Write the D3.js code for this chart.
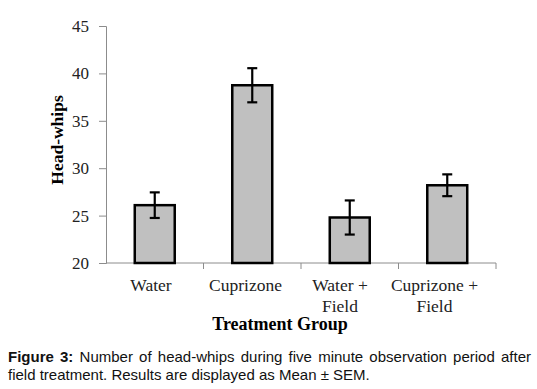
<!DOCTYPE html>
<html>
<head>
<meta charset="utf-8">
<script src="https://cdn.jsdelivr.net/npm/d3@7"></script>
<style>
  body { margin: 0; background: #fff; }
</style>
</head>
<body>
<div id="chart"></div>
<script>
// data
const groups = ["Water", "Cuprizone", "Water + Field", "Cuprizone + Field"]
const groupLines = [["Water"], ["Cuprizone"], ["Water +", "Field"], ["Cuprizone +", "Field"]]
const means = [26.1, 38.75, 24.8, 28.2]
const sems = [1.35, 1.8, 1.8, 1.15]
const yTicks = [20, 25, 30, 35, 40, 45]

const W = 537, H = 389
const margin = {top: 26, right: 41, bottom: 126, left: 106}
const width = W - margin.left - margin.right
const height = H - margin.top - margin.bottom

const svg = d3.select("#chart")
    .append("svg")
        .attr("width", W)
        .attr("height", H)

const bounds = svg.append("g")
    .attr("transform", `translate(${margin.left},${margin.top})`)

const x = d3.scaleBand()
    .domain(groups)
    .range([0, width])
    .paddingInner(0.59)
    .paddingOuter(0.295)

const xOuter = d3.scaleBand()
    .domain(groups)
    .range([0, width])

// labels in the original sit a little left of the band centres
const xLabel = d3.scaleBand()
    .domain(groups)
    .range([-2.25, 375.75])

const y = d3.scaleLinear()
    .domain([20, 45])
    .range([height, 0])

// y axis
const yAxis = bounds.append("g")
    .call(d3.axisLeft(y).tickValues(yTicks).tickSize(7).tickPadding(10))
    .attr("font-family", "Liberation Serif")
    .attr("font-size", 17)
yAxis.selectAll("path, line").attr("stroke", "#8c8c8c")
yAxis.selectAll("text")
    .attr("fill", "#222")
    .style("font-family", "'Liberation Serif', serif")
    .style("font-size", "17px")

// x axis line + ticks at category boundaries
const xAxis = bounds.append("g")
    .attr("transform", `translate(0,${height})`)
xAxis.append("line")
    .attr("x1", 0).attr("x2", width)
    .attr("stroke", "#8c8c8c")
xAxis.selectAll(".tk")
    .data(groups)
    .join("line")
        .attr("x1", d => xOuter(d) + xOuter.bandwidth())
        .attr("x2", d => xOuter(d) + xOuter.bandwidth())
        .attr("y1", 0).attr("y2", 6)
        .attr("stroke", "#8c8c8c")

// bars
bounds.selectAll(".bar")
    .data(groups)
    .join("rect")
        .attr("x", d => x(d))
        .attr("y", (d, i) => y(means[i]))
        .attr("width", x.bandwidth())
        .attr("height", (d, i) => height - y(means[i]))
        .attr("fill", "#c0c0c0")
        .attr("stroke", "#000")
        .attr("stroke-width", 2.5)

// error bars
const err = bounds.selectAll(".err")
    .data(groups)
    .join("g")
        .attr("transform", d => `translate(${x(d) + x.bandwidth() / 2},0)`)
err.append("line")
    .attr("y1", (d, i) => y(means[i] + sems[i]))
    .attr("y2", (d, i) => y(means[i] - sems[i]))
    .attr("stroke", "#000").attr("stroke-width", 2.2)
err.append("line")
    .attr("x1", -5).attr("x2", 5)
    .attr("y1", (d, i) => y(means[i] + sems[i]))
    .attr("y2", (d, i) => y(means[i] + sems[i]))
    .attr("stroke", "#000").attr("stroke-width", 2.2)
err.append("line")
    .attr("x1", -5).attr("x2", 5)
    .attr("y1", (d, i) => y(means[i] - sems[i]))
    .attr("y2", (d, i) => y(means[i] - sems[i]))
    .attr("stroke", "#000").attr("stroke-width", 2.2)

// category labels
bounds.selectAll(".xl")
    .data(groups)
    .join("text")
        .attr("x", d => xLabel(d) + xLabel.bandwidth() / 2)
        .attr("y", height + 28)
        .attr("text-anchor", "middle")
        .attr("fill", "#222")
        .style("font-family", "'Liberation Serif', serif")
        .style("font-size", "17.5px")
        .selectAll("tspan")
        .data((d, i) => groupLines[i])
        .join("tspan")
            .attr("x", function() { return this.parentNode.getAttribute("x") })
            .attr("dy", (d, i) => i ? 21 : 0)
            .text(d => d)

// axis titles
svg.append("text")
    .attr("x", 280)
    .attr("y", 330)
    .attr("text-anchor", "middle")
    .style("font-family", "'Liberation Serif', serif")
    .style("font-size", "18px")
    .style("font-weight", "bold")
    .text("Treatment Group")

svg.append("text")
    .attr("transform", "translate(63,140) rotate(-90)")
    .attr("text-anchor", "middle")
    .style("font-family", "'Liberation Serif', serif")
    .style("font-size", "17.5px")
    .style("font-weight", "bold")
    .text("Head-whips")

// caption
const cap1 = svg.append("text")
    .attr("x", 8)
    .attr("y", 362)
    .style("font-family", "'Liberation Sans', Arial, sans-serif")
    .style("font-size", "15px")
    .attr("fill", "#111")
cap1.append("tspan").style("font-weight", "bold").text("Figure 3:")
cap1.append("tspan").text(" Number of head-whips during five minute observation period after")
// stretch first line to full width like the justified original
const w1 = cap1.node().getComputedTextLength()
const nSpaces = 10
cap1.attr("word-spacing", Math.max(0, (531 - 8 - w1) / nSpaces))

svg.append("text")
    .attr("x", 8)
    .attr("y", 380)
    .style("font-family", "'Liberation Sans', Arial, sans-serif")
    .style("font-size", "15px")
    .attr("fill", "#111")
    .text("field treatment. Results are displayed as Mean \u00b1 SEM.")
</script>
</body>
</html>
